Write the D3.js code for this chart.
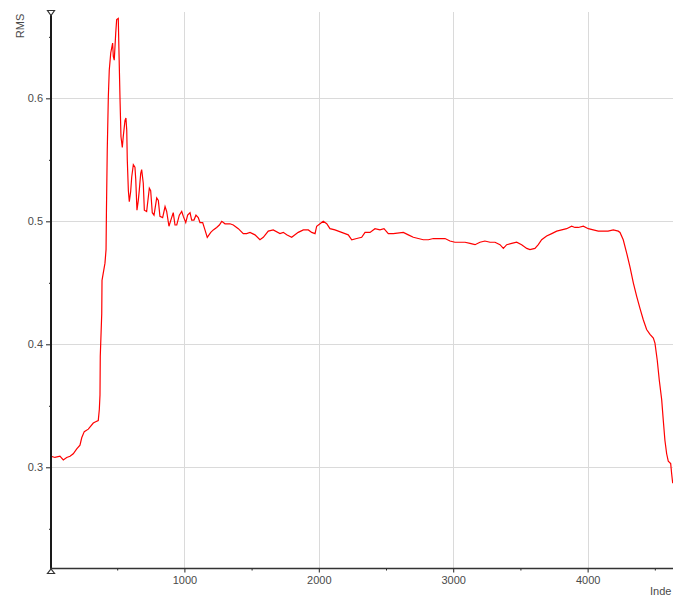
<!DOCTYPE html>
<html>
<head>
<meta charset="utf-8">
<script src="https://cdn.jsdelivr.net/npm/d3@7"></script>
<style>
  html, body { margin: 0; padding: 0; background: #fff; }
  svg { display: block; }
  .tick text { font-family: "Liberation Sans", Arial, sans-serif; font-size: 11px; fill: #4a4a4a; }
  .axis-title { font-family: "Liberation Sans", Arial, sans-serif; font-size: 11px; fill: #4a4a4a; }
</style>
</head>
<body>
<svg id="chart" width="673" height="598"></svg>
<script>
// Running RMS by sample index
const sampleIndex = [
  0, 6, 9, 37, 74, 99, 124, 149, 173, 199, 223, 236, 255, 285, 322, 340, 359, 367, 372, 374,
  385, 387, 409, 417, 420, 426, 434, 441, 452, 466, 471, 478, 489, 496, 508, 513, 521, 528, 538, 545,
  558, 565, 571, 575, 583, 590, 600, 608, 620, 632, 638, 647, 657, 664, 675, 682, 694, 702, 719, 739,
  749, 761, 774, 794, 806, 818, 838, 856, 868, 885, 905, 917, 930, 943, 962, 980, 992, 1010, 1024, 1042,
  1054, 1071, 1086, 1103, 1116, 1136, 1153, 1170, 1196, 1215, 1240, 1260, 1278, 1302, 1339, 1364, 1401, 1438, 1463, 1488,
  1525, 1562, 1587, 1624, 1661, 1711, 1736, 1761, 1798, 1847, 1885, 1922, 1947, 1972, 1984, 2009, 2033, 2059, 2083, 2120,
  2170, 2195, 2219, 2245, 2282, 2319, 2344, 2381, 2418, 2455, 2485, 2517, 2554, 2629, 2666, 2703, 2740, 2777, 2815, 2852,
  2889, 2939, 2976, 3013, 3050, 3088, 3125, 3162, 3199, 3236, 3274, 3311, 3348, 3373, 3398, 3435, 3472, 3509, 3547, 3571,
  3608, 3633, 3658, 3695, 3733, 3770, 3807, 3844, 3881, 3906, 3931, 3968, 4005, 4042, 4079, 4117, 4152, 4191, 4228, 4241,
  4265, 4291, 4315, 4340, 4365, 4390, 4414, 4439, 4464, 4489, 4501, 4518, 4533, 4551, 4563, 4575, 4588, 4600, 4618, 4625,
  4633
];
const rmsValues = [
  0.447, 0.442, 0.309, 0.308, 0.309, 0.306, 0.308, 0.309, 0.311, 0.315, 0.318, 0.324, 0.329, 0.331, 0.336, 0.337, 0.338, 0.347, 0.359, 0.390,
  0.425, 0.452, 0.466, 0.477, 0.509, 0.558, 0.601, 0.623, 0.637, 0.645, 0.634, 0.631, 0.653, 0.664, 0.665, 0.639, 0.599, 0.569, 0.560, 0.569,
  0.582, 0.584, 0.574, 0.550, 0.525, 0.516, 0.524, 0.536, 0.546, 0.544, 0.534, 0.509, 0.517, 0.525, 0.539, 0.542, 0.531, 0.509, 0.508, 0.527,
  0.525, 0.507, 0.505, 0.519, 0.517, 0.504, 0.503, 0.512, 0.508, 0.496, 0.503, 0.507, 0.497, 0.497, 0.505, 0.508, 0.504, 0.499, 0.505, 0.507,
  0.501, 0.501, 0.505, 0.503, 0.499, 0.499, 0.493, 0.487, 0.491, 0.493, 0.495, 0.497, 0.500, 0.498, 0.498, 0.497, 0.494, 0.490, 0.490, 0.491,
  0.489, 0.485, 0.487, 0.492, 0.493, 0.490, 0.491, 0.489, 0.487, 0.491, 0.493, 0.493, 0.491, 0.490, 0.496, 0.498, 0.500, 0.498, 0.494, 0.493,
  0.491, 0.490, 0.489, 0.485, 0.486, 0.487, 0.491, 0.491, 0.494, 0.493, 0.494, 0.490, 0.490, 0.491, 0.489, 0.487, 0.486, 0.485, 0.485, 0.486,
  0.486, 0.486, 0.484, 0.483, 0.483, 0.483, 0.482, 0.481, 0.483, 0.484, 0.483, 0.483, 0.481, 0.478, 0.481, 0.482, 0.483, 0.481, 0.478, 0.477,
  0.478, 0.481, 0.485, 0.488, 0.490, 0.492, 0.493, 0.494, 0.496, 0.495, 0.495, 0.496, 0.494, 0.493, 0.492, 0.492, 0.492, 0.493, 0.492, 0.491,
  0.485, 0.474, 0.463, 0.450, 0.439, 0.429, 0.420, 0.412, 0.408, 0.405, 0.401, 0.387, 0.371, 0.355, 0.338, 0.322, 0.311, 0.305, 0.303, 0.295,
  0.287
];
const xMajorTicks = [1000, 2000, 3000, 4000];
const xMinorTicks = [500, 1500, 2500, 3500, 4500];
const yMajorTicks = [0.3, 0.4, 0.5, 0.6];
const yMinorTicks = [0.25, 0.35, 0.45, 0.55, 0.65];
const xTitle = "Inde";
const yTitle = "RMS";

const series = sampleIndex.map((d, i) => ({ i: d, v: rmsValues[i] }));

const svg = d3.select("#chart");
const plotLeft = 50, plotRight = 672.3, plotTop = 12, plotBottom = 568.5;

const x = d3.scaleLinear().domain([0, 4630]).range([plotLeft, plotRight]);
const y = d3.scaleLinear().domain([0.2177, 0.6702]).range([plotBottom, plotTop]);

// grid
const grid = svg.append("g").attr("stroke", "#dadada").attr("stroke-width", 1).attr("shape-rendering", "crispEdges");
grid.selectAll("line.gx").data(xMajorTicks).join("line")
  .attr("x1", d => Math.round(x(d)) + 0.5).attr("x2", d => Math.round(x(d)) + 0.5)
  .attr("y1", plotTop).attr("y2", plotBottom);
grid.selectAll("line.gy").data(yMajorTicks).join("line")
  .attr("x1", plotLeft).attr("x2", 673)
  .attr("y1", d => Math.round(y(d)) + 0.5).attr("y2", d => Math.round(y(d)) + 0.5);

// data line
const clipId = "plotClip";
svg.append("clipPath").attr("id", clipId).append("rect")
  .attr("x", plotLeft).attr("y", plotTop).attr("width", 673 - plotLeft).attr("height", plotBottom - plotTop);
svg.append("path")
  .datum(series)
  .attr("clip-path", `url(#${clipId})`)
  .attr("fill", "none")
  .attr("stroke", "#ff0000")
  .attr("stroke-width", 1.2)
  .attr("stroke-linejoin", "miter")
  .attr("d", d3.line().x(d => x(d.i)).y(d => y(d.v)));

// y axis
const yAxis = svg.append("g").attr("transform", `translate(${plotLeft + 1},0)`)
  .call(d3.axisLeft(y).tickValues(yMajorTicks).tickSize(5).tickPadding(3).tickFormat(d3.format(".1f")));
yAxis.select(".domain").remove();
yAxis.selectAll(".tick line").attr("stroke", "#222");
svg.append("g").attr("transform", `translate(${plotLeft + 1},0)`)
  .call(d3.axisLeft(y).tickValues(yMinorTicks).tickSize(2).tickFormat(""))
  .call(g => g.select(".domain").remove())
  .selectAll(".tick line").attr("stroke", "#222");

// x axis
const xAxis = svg.append("g").attr("transform", `translate(0,${plotBottom})`)
  .call(d3.axisBottom(x).tickValues(xMajorTicks).tickSize(4).tickPadding(4).tickFormat(d3.format("d")));
xAxis.select(".domain").remove();
xAxis.selectAll(".tick line").attr("stroke", "#222");
svg.append("g").attr("transform", `translate(0,${plotBottom})`)
  .call(d3.axisBottom(x).tickValues(xMinorTicks).tickSize(2).tickFormat(""))
  .call(g => g.select(".domain").remove())
  .selectAll(".tick line").attr("stroke", "#222");

// axis lines
svg.append("line").attr("x1", plotLeft + 1).attr("x2", plotLeft + 1).attr("y1", plotTop).attr("y2", plotBottom)
  .attr("stroke", "#1a1a1a").attr("stroke-width", 2);
svg.append("line").attr("x1", plotLeft).attr("x2", 673).attr("y1", plotBottom).attr("y2", plotBottom)
  .attr("stroke", "#333").attr("stroke-width", 1.3);

// end markers on the value axis
svg.append("path")
  .attr("d", `M${plotLeft - 2.5},${plotTop - 1.5} L${plotLeft + 4.5},${plotTop - 1.5} L${plotLeft + 1},${plotTop + 3.5} Z`)
  .attr("fill", "#fff").attr("stroke", "#333").attr("stroke-width", 1.2);
svg.append("path")
  .attr("d", `M${plotLeft - 2.5},${plotBottom + 5} L${plotLeft + 4.5},${plotBottom + 5} L${plotLeft + 1},${plotBottom + 0.5} Z`)
  .attr("fill", "#fff").attr("stroke", "#333").attr("stroke-width", 1.2);

// axis titles
svg.append("text").attr("class", "axis-title")
  .attr("transform", "translate(24,26) rotate(-90)")
  .attr("text-anchor", "middle")
  .text(yTitle);
svg.append("text").attr("class", "axis-title")
  .attr("x", 650).attr("y", 595)
  .text(xTitle);
</script>
</body>
</html>
